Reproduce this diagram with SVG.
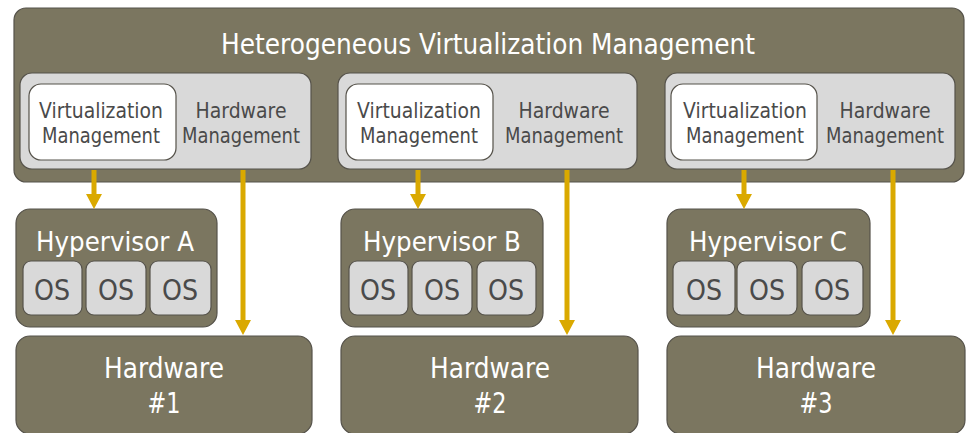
<svg xmlns="http://www.w3.org/2000/svg" width="967" height="433" viewBox="0 0 967 433">
<style>
.dark{fill:#7B7660;stroke:#55524A;stroke-width:1.2}
.panel{fill:#D9D9D9;stroke:#55524A;stroke-width:1.2}
.white{fill:#FFFFFF;stroke:#55524A;stroke-width:1.2}
.os{fill:#D9D9D9;stroke:#55524A;stroke-width:1.2}
text{font-family:"DejaVu Sans","Liberation Sans",sans-serif;text-anchor:middle}
.wt{fill:#FFFFFF}
.gt{fill:#4A4A4A}
.t27{font-size:28px}
.t26{font-size:27px}
.t20{font-size:21px}
.arrow{stroke:#DAA900;stroke-width:5;fill:none}
</style>
<defs>
<marker id="ah" markerUnits="userSpaceOnUse" markerWidth="16" markerHeight="16" refX="0" refY="8" orient="auto">
<path d="M0,0 L15,8 L0,16 Z" fill="#DAA900"/>
</marker>
</defs>
<g id="hvm">
<rect class="dark" x="14" y="8" width="950" height="174" rx="12"/>
<text class="wt t27" x="488" y="54" textLength="534" lengthAdjust="spacingAndGlyphs">Heterogeneous Virtualization Management</text>
</g>
<g id="mgmt1">
<rect class="panel" x="20" y="73" width="291" height="96" rx="12"/>
<rect class="white" x="29" y="84" width="147" height="76" rx="12"/>
<text class="gt t20" x="101" y="118" textLength="124" lengthAdjust="spacingAndGlyphs">Virtualization</text>
<text class="gt t20" x="101" y="143" textLength="118" lengthAdjust="spacingAndGlyphs">Management</text>
<text class="gt t20" x="241" y="118" textLength="91" lengthAdjust="spacingAndGlyphs">Hardware</text>
<text class="gt t20" x="241" y="143" textLength="118" lengthAdjust="spacingAndGlyphs">Management</text>
</g>
<g id="mgmt2">
<rect class="panel" x="338" y="73" width="299" height="96" rx="12"/>
<rect class="white" x="346" y="84" width="147" height="76" rx="12"/>
<text class="gt t20" x="419" y="118" textLength="124" lengthAdjust="spacingAndGlyphs">Virtualization</text>
<text class="gt t20" x="419" y="143" textLength="118" lengthAdjust="spacingAndGlyphs">Management</text>
<text class="gt t20" x="564" y="118" textLength="91" lengthAdjust="spacingAndGlyphs">Hardware</text>
<text class="gt t20" x="564" y="143" textLength="118" lengthAdjust="spacingAndGlyphs">Management</text>
</g>
<g id="mgmt3">
<rect class="panel" x="665" y="73" width="290" height="96" rx="12"/>
<rect class="white" x="671" y="84" width="146" height="76" rx="12"/>
<text class="gt t20" x="745" y="118" textLength="124" lengthAdjust="spacingAndGlyphs">Virtualization</text>
<text class="gt t20" x="745" y="143" textLength="118" lengthAdjust="spacingAndGlyphs">Management</text>
<text class="gt t20" x="885" y="118" textLength="91" lengthAdjust="spacingAndGlyphs">Hardware</text>
<text class="gt t20" x="885" y="143" textLength="118" lengthAdjust="spacingAndGlyphs">Management</text>
</g>
<g id="hypA">
<rect class="dark" x="16" y="209" width="201" height="118" rx="14"/>
<text class="wt t26" x="115" y="251" textLength="158" lengthAdjust="spacingAndGlyphs">Hypervisor A</text>
<rect class="os" x="23" y="261" width="59" height="54" rx="8"/>
<rect class="os" x="86" y="261" width="60" height="54" rx="8"/>
<rect class="os" x="150" y="261" width="61" height="54" rx="8"/>
<text class="gt t27" x="52" y="300" textLength="36" lengthAdjust="spacingAndGlyphs">OS</text>
<text class="gt t27" x="116" y="300" textLength="36" lengthAdjust="spacingAndGlyphs">OS</text>
<text class="gt t27" x="180" y="300" textLength="36" lengthAdjust="spacingAndGlyphs">OS</text>
</g>
<g id="hypB">
<rect class="dark" x="341" y="209" width="202" height="118" rx="14"/>
<text class="wt t26" x="442" y="251" textLength="158" lengthAdjust="spacingAndGlyphs">Hypervisor B</text>
<rect class="os" x="349" y="261" width="59" height="54" rx="8"/>
<rect class="os" x="412" y="261" width="60" height="54" rx="8"/>
<rect class="os" x="477" y="261" width="59" height="54" rx="8"/>
<text class="gt t27" x="378" y="300" textLength="36" lengthAdjust="spacingAndGlyphs">OS</text>
<text class="gt t27" x="442" y="300" textLength="36" lengthAdjust="spacingAndGlyphs">OS</text>
<text class="gt t27" x="506" y="300" textLength="36" lengthAdjust="spacingAndGlyphs">OS</text>
</g>
<g id="hypC">
<rect class="dark" x="667" y="209" width="203" height="118" rx="14"/>
<text class="wt t26" x="768" y="251" textLength="158" lengthAdjust="spacingAndGlyphs">Hypervisor C</text>
<rect class="os" x="673" y="261" width="62" height="54" rx="8"/>
<rect class="os" x="737" y="261" width="60" height="54" rx="8"/>
<rect class="os" x="802" y="261" width="61" height="54" rx="8"/>
<text class="gt t27" x="704" y="300" textLength="36" lengthAdjust="spacingAndGlyphs">OS</text>
<text class="gt t27" x="767" y="300" textLength="36" lengthAdjust="spacingAndGlyphs">OS</text>
<text class="gt t27" x="832" y="300" textLength="36" lengthAdjust="spacingAndGlyphs">OS</text>
</g>
<g id="hw1">
<rect class="dark" x="16" y="336" width="296" height="98" rx="14"/>
<text class="wt t27" x="164" y="378" textLength="120" lengthAdjust="spacingAndGlyphs">Hardware</text>
<text class="wt t27" x="164" y="413" textLength="33" lengthAdjust="spacingAndGlyphs">#1</text>
</g>
<g id="hw2">
<rect class="dark" x="341" y="336" width="297" height="98" rx="14"/>
<text class="wt t27" x="490" y="378" textLength="120" lengthAdjust="spacingAndGlyphs">Hardware</text>
<text class="wt t27" x="490" y="413" textLength="33" lengthAdjust="spacingAndGlyphs">#2</text>
</g>
<g id="hw3">
<rect class="dark" x="667" y="336" width="298" height="98" rx="14"/>
<text class="wt t27" x="816" y="378" textLength="120" lengthAdjust="spacingAndGlyphs">Hardware</text>
<text class="wt t27" x="816" y="413" textLength="33" lengthAdjust="spacingAndGlyphs">#3</text>
</g>
<g id="connectors">
<line class="arrow" x1="94" y1="170" x2="94" y2="194" marker-end="url(#ah)"/>
<line class="arrow" x1="243" y1="170" x2="243" y2="320" marker-end="url(#ah)"/>
<line class="arrow" x1="418" y1="170" x2="418" y2="194" marker-end="url(#ah)"/>
<line class="arrow" x1="567" y1="170" x2="567" y2="320" marker-end="url(#ah)"/>
<line class="arrow" x1="744" y1="170" x2="744" y2="194" marker-end="url(#ah)"/>
<line class="arrow" x1="893" y1="170" x2="893" y2="320" marker-end="url(#ah)"/>
</g>
</svg>
